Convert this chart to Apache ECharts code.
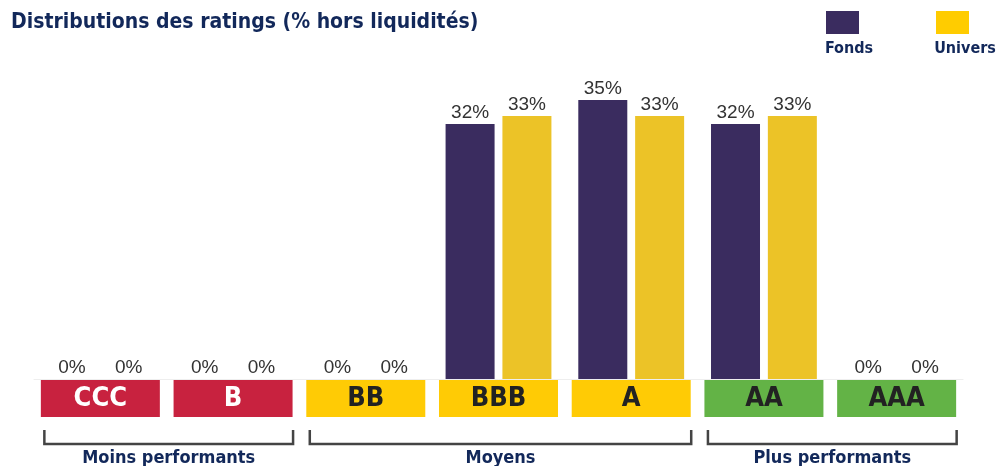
<!DOCTYPE html>
<html>
<head>
<meta charset="utf-8">
<script src="https://cdn.jsdelivr.net/npm/echarts@6/dist/echarts.min.js"></script>
<style>
    html, body { margin: 0; padding: 0; background: #fff; }
    #chart { width: 1000px; height: 466px; }
</style>
</head>
<body>
<div id="chart"></div>
<script>
// ratings (axe x)
const categories = ["CCC", "B", "BB", "BBB", "A", "AA", "AAA"];
const ratingGroup = ["red", "red", "yellow", "yellow", "yellow", "green", "green"];
// valeurs en %
const fondsValues = [0, 0, 0, 32, 35, 32, 0];
const universValues = [0, 0, 0, 33, 33, 33, 0];
// regroupements sous l'axe
const groups = [
    { name: "Moins performants", from: 0, to: 1 },
    { name: "Moyens", from: 2, to: 4 },
    { name: "Plus performants", from: 5, to: 6 },
];

const NAVY = "#12285a";
const FONT = "'Liberation Sans Narrow', 'DejaVu Sans Condensed', Arial, sans-serif";

const chart = echarts.init(document.getElementById("chart"));

const labelStyle = {
    show: true,
    position: "top",
    distance: 2,
    formatter: "{c}%",
    color: "#333",
    fontSize: 19,
    fontFamily: "Arial, sans-serif",
};

const boxStyle = (bg, fg) => ({
    width: 119,
    height: 37,
    lineHeight: 37,
    align: "center",
    backgroundColor: bg,
    color: fg,
    fontSize: 27,
    fontWeight: "bold",
    fontFamily: FONT,
});

const option = {
    backgroundColor: "#fff",
    animation: false,
    title: {
        text: "Distributions des ratings (% hors liquidités)",
        left: 6,
        top: 7,
        textStyle: {
            color: NAVY,
            fontSize: 21,
            fontWeight: "bold",
            fontFamily: FONT,
        },
    },
    grid: {
        left: 34,
        right: 37,
        top: 100,
        bottom: 87,
    },
    xAxis: {
        type: "category",
        data: categories,
        axisTick: { show: false },
        axisLine: { lineStyle: { color: "#eeeeee", width: 1 } },
        axisLabel: {
            margin: 1,
            interval: 0,
            formatter: (val, idx) => "{" + ratingGroup[idx] + "|" + val + "}",
            rich: {
                red: boxStyle("#c8223f", "#fff"),
                yellow: boxStyle("#ffcb05", "#222"),
                green: boxStyle("#63b346", "#222"),
            },
        },
    },
    yAxis: {
        type: "value",
        min: 0,
        max: 35,
        show: false,
        splitLine: { show: false },
    },
    series: [
        {
            name: "Fonds",
            type: "bar",
            data: fondsValues,
            barWidth: 49,
            barGap: "16%",
            itemStyle: { color: "#3a2c5f" },
            label: labelStyle,
        },
        {
            name: "Univers",
            type: "bar",
            data: universValues,
            barWidth: 49,
            itemStyle: { color: "#ecc327" },
            label: labelStyle,
        },
    ],
};

chart.setOption(option);

// accolades des groupes + légende
const half = 59;
const graphics = [];
const baseY = chart.convertToPixel({ yAxisIndex: 0 }, 0);
groups.forEach((g) => {
    const x1 = chart.convertToPixel({ xAxisIndex: 0 }, categories[g.from]) - half + 3;
    const x2 = chart.convertToPixel({ xAxisIndex: 0 }, categories[g.to]) + half + 1;
    const yTop = baseY + 51;
    const yBot = baseY + 65;
    graphics.push({
        type: "polyline",
        shape: { points: [[x1, yTop], [x1, yBot], [x2, yBot], [x2, yTop]] },
        style: { stroke: "#444", lineWidth: 2.5, fill: null },
    });
    graphics.push({
        type: "text",
        x: (x1 + x2) / 2,
        y: baseY + 70,
        style: {
            text: g.name,
            fill: NAVY,
            font: "bold 18px " + FONT,
            align: "center",
            verticalAlign: "top",
        },
    });
});

[
    { name: "Fonds", color: "#3a2c5f", x: 826, textX: 849 },
    { name: "Univers", color: "#ffcc00", x: 936, textX: 965 },
].forEach((l) => {
    graphics.push({
        type: "rect",
        shape: { x: l.x, y: 11, width: 33, height: 23 },
        style: { fill: l.color },
    });
    graphics.push({
        type: "text",
        x: l.textX,
        y: 41,
        style: {
            text: l.name,
            fill: NAVY,
            font: "bold 16px " + FONT,
            align: "center",
            verticalAlign: "top",
        },
    });
});

chart.setOption({ graphic: graphics });
</script>
</body>
</html>
